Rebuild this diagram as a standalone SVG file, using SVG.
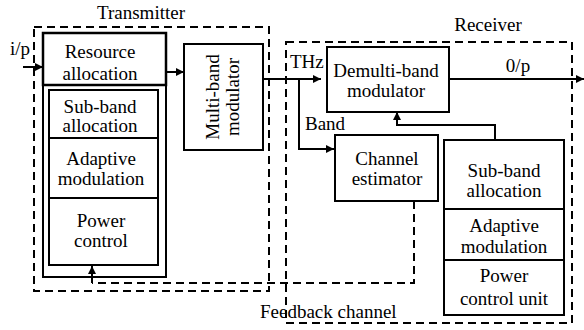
<svg xmlns="http://www.w3.org/2000/svg" width="584" height="330" viewBox="0 0 584 330">
<style>
  .box { fill: #fff; stroke: #000; stroke-width: 2; }
  .dash { fill: none; stroke: #000; stroke-width: 2; stroke-dasharray: 8 5; }
  .line { fill: none; stroke: #000; stroke-width: 2; }
  .t { font-family: "Liberation Serif", "Times New Roman", serif; font-size: 19px; fill: #000; }
  .c { text-anchor: middle; }
</style>
<defs>
  <marker id="arr" viewBox="0 0 10 10" refX="10" refY="5" markerWidth="9" markerHeight="8" markerUnits="userSpaceOnUse" orient="auto">
    <path d="M0,0 L10,5 L0,10 z" fill="#000"/>
  </marker>
</defs>

<g id="transmitter-group">
  <rect class="dash" x="34" y="27" width="235" height="264"/>
  <text class="t c" x="141" y="19">Transmitter</text>
  <rect class="box" x="43" y="33" width="123" height="244" stroke-width="2.5"/>
</g>
<g id="receiver-group">
  <rect class="dash" x="286" y="42" width="286" height="281"/>
  <text class="t c" x="488" y="31">Receiver</text>
</g>

<g id="resource-allocation">
  <rect x="43" y="33" width="123" height="52" fill="none" stroke="#000" stroke-width="2.5"/>
  <text class="t c" x="100" y="58">Resource</text>
  <text class="t c" x="100" y="80">allocation</text>
</g>
<g id="tx-controls">
  <rect class="box" x="49" y="90" width="109" height="175" stroke-width="2.5"/>
  <line class="line" x1="49" y1="138" x2="158" y2="138"/>
  <line class="line" x1="49" y1="198" x2="158" y2="198"/>
  <text class="t c" x="100" y="113">Sub-band</text>
  <text class="t c" x="100" y="132">allocation</text>
  <text class="t c" x="101" y="165">Adaptive</text>
  <text class="t c" x="101" y="185">modulation</text>
  <text class="t c" x="101" y="227">Power</text>
  <text class="t c" x="101" y="247">control</text>
</g>
<g id="multiband-modulator">
  <rect class="box" x="184" y="44" width="79" height="106"/>
  <text class="t c" transform="translate(219,97) rotate(-90)" x="0" y="0">Multi-band</text>
  <text class="t c" transform="translate(239,97) rotate(-90)" x="0" y="0">modulator</text>
</g>
<g id="demultiband-modulator">
  <rect class="box" x="327" y="47" width="122" height="65"/>
  <text class="t c" x="386" y="77">Demulti-band</text>
  <text class="t c" x="386" y="97">modulator</text>
</g>
<g id="channel-estimator">
  <rect class="box" x="335" y="135" width="103" height="66"/>
  <text class="t c" x="387" y="165">Channel</text>
  <text class="t c" x="387" y="185">estimator</text>
</g>
<g id="rx-controls">
  <rect class="box" x="444" y="140" width="120" height="175"/>
  <line class="line" x1="444" y1="209" x2="564" y2="209"/>
  <line class="line" x1="444" y1="260" x2="564" y2="260"/>
  <text class="t c" x="504" y="177">Sub-band</text>
  <text class="t c" x="504" y="197">allocation</text>
  <text class="t c" x="504" y="232">Adaptive</text>
  <text class="t c" x="504" y="253">modulation</text>
  <text class="t c" x="504" y="282">Power</text>
  <text class="t c" x="504" y="305">control unit</text>
</g>

<g id="connectors">
  <line class="line" x1="23" y1="67" x2="43" y2="67" marker-end="url(#arr)"/>
  <line class="line" x1="166" y1="72" x2="184" y2="72" marker-end="url(#arr)"/>
  <line class="line" x1="263" y1="79" x2="321" y2="79" marker-end="url(#arr)"/>
  <polyline class="line" points="299,79 299,149 334,149" marker-end="url(#arr)"/>
  <line class="line" x1="449" y1="79" x2="584" y2="79" marker-end="url(#arr)"/>
  <polyline class="line" points="495,140 495,125 397,125 397,112" marker-end="url(#arr)"/>
  <polyline class="dash" points="414,201 414,283 92,283"/>
  <line class="line" x1="92" y1="283" x2="92" y2="266" marker-end="url(#arr)"/>
  <text class="t" x="10" y="55">i/p</text>
  <text class="t" x="290" y="68">THz</text>
  <text class="t" x="305" y="130">Band</text>
  <text class="t c" x="518" y="72">0/p</text>
  <text class="t" x="260" y="318">Feedback channel</text>
</g>
</svg>
